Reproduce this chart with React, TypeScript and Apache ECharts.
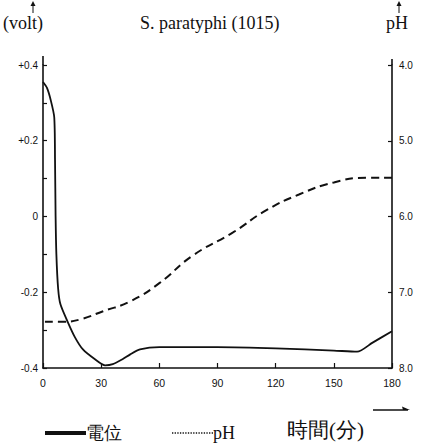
import React, { useEffect, useRef } from "react";
import * as echarts from "echarts";

// time (min) and potential (volt)
const vTimes = [0, 2, 4, 5.8, 6.2, 6.5, 6.9, 7.8, 9, 12.9, 16.5, 20.6, 26.8, 32, 36, 41, 45, 50, 60, 90, 120, 150, 162, 170, 180];
const vValues = [0.355, 0.34, 0.307, 0.262, 0.15, 0.0, -0.1, -0.19, -0.232, -0.28, -0.319, -0.351, -0.377, -0.393, -0.39, -0.377, -0.364, -0.351, -0.345, -0.345, -0.348, -0.354, -0.357, -0.333, -0.303];

// time (min) and pH
const pTimes = [1, 10, 19, 31, 45, 60, 77, 98, 115, 132, 150, 167, 180];
const pValues = [7.39, 7.39, 7.36, 7.25, 7.12, 6.88, 6.52, 6.21, 5.92, 5.71, 5.55, 5.49, 5.49];

const xTicks = [0, 30, 60, 90, 120, 150, 180];
const voltLabels: Record<string, string> = { "4": "+0.4", "2": "+0.2", "0": "0", "-2": "-0.2", "-4": "-0.4" };
const phLabels = ["4.0", "5.0", "6.0", "7.0", "8.0"];

const SERIF = "Liberation Serif";
const SANS = "Liberation Sans";

export default function App() {
  const ref = useRef<HTMLDivElement>(null);
  useEffect(() => {
    if (!ref.current) return;
    const chart = echarts.init(ref.current, null, { renderer: "svg" });
    const L = 43, R = 392, T = 65, B = 368;
    const arrowUp = (x: number) => [
      { type: "line", shape: { x1: x, y1: 4, x2: x, y2: 13 }, style: { stroke: "#111", lineWidth: 1 } },
      { type: "polygon", shape: { points: [[x, 1], [x - 2.5, 6], [x + 2.5, 6]] }, style: { fill: "#111" } },
    ];
    chart.setOption({
      animation: false,
      backgroundColor: "#fff",
      grid: { left: L, right: 425 - R, top: T, bottom: 445 - B, containLabel: false },
      xAxis: {
        type: "value", min: 0, max: 180, interval: 30,
        axisLine: { onZero: false, lineStyle: { color: "#111", width: 1.6 } },
        axisTick: { inside: true, length: 5, lineStyle: { color: "#111", width: 1.2 } },
        axisLabel: {
          margin: 9, color: "#111", fontSize: 10.5, fontFamily: SANS,
          formatter: (v: number) => (xTicks.includes(v) ? String(v) : ""),
        },
        splitLine: { show: false },
      },
      yAxis: [
        {
          type: "value", min: -0.4, max: 0.4, interval: 0.1,
          axisLine: { show: true, onZero: false, lineStyle: { color: "#111", width: 1.6 } },
          axisTick: { show: true, inside: true, length: 4, lineStyle: { color: "#111", width: 1.2 } },
          axisLabel: {
            margin: 5, color: "#111", fontSize: 10, fontFamily: SANS,
            formatter: (v: number) => voltLabels[String(Math.round(v * 10))] ?? "",
          },
          splitLine: { show: false },
        },
        {
          type: "value", min: 4, max: 8, interval: 1, inverse: true, position: "right",
          axisLine: { show: true, onZero: false, lineStyle: { color: "#111", width: 1.6 } },
          axisTick: { show: true, inside: true, length: 4, lineStyle: { color: "#111", width: 1.2 } },
          axisLabel: {
            margin: 7, color: "#111", fontSize: 10, fontFamily: SANS,
            formatter: (v: number) => phLabels[Math.round(v) - 4] ?? "",
          },
          splitLine: { show: false },
        },
      ],
      legend: {
        left: 40, top: 419, itemWidth: 41, itemHeight: 10, itemGap: 50,
        textStyle: { fontSize: 18, color: "#111", fontFamily: SERIF, padding: [0, 0, 0, -5] },
        data: [
          { name: "電位", icon: "path://M0,0H10V1H0Z", itemStyle: { color: "#111" } },
          { name: "pH", icon: "path://M0,0H1V1H0ZM2,0H3V1H2ZM4,0H5V1H4ZM6,0H7V1H6ZM8,0H9V1H8ZM10,0H11V1H10ZM12,0H13V1H12ZM14,0H15V1H14ZM16,0H17V1H16ZM18,0H19V1H18ZM20,0H21V1H20ZM22,0H23V1H22ZM24,0H25V1H24ZM26,0H27V1H26ZM28,0H29V1H28ZM30,0H31V1H30Z", itemStyle: { color: "#111" } },
        ],
      },
      series: [
        {
          name: "電位", type: "line", yAxisIndex: 0, symbol: "none", smooth: 0.25,
          lineStyle: { color: "#111", width: 1.8 },
          data: vTimes.map((t, i) => [t, vValues[i]]),
        },
        {
          name: "pH", type: "line", yAxisIndex: 1, symbol: "none", smooth: 0.5,
          lineStyle: { color: "#111", width: 2, type: [8, 5] },
          data: pTimes.map((t, i) => [t, pValues[i]]),
        },
      ],
      graphic: [
        { type: "text", x: 140, y: 14, style: { text: "S. paratyphi (1015)", fontSize: 18, fontFamily: SERIF, fill: "#111" } },
        { type: "text", x: 3, y: 14, style: { text: "(volt)", fontSize: 18, fontFamily: SERIF, fill: "#111" } },
        ...arrowUp(33),
        { type: "text", x: 386, y: 14, style: { text: "pH", fontSize: 18, fontFamily: SERIF, fill: "#111" } },
        ...arrowUp(399),
        { type: "line", shape: { x1: L, y1: 56, x2: L, y2: T }, style: { stroke: "#111", lineWidth: 1.6 } },
        { type: "line", shape: { x1: R, y1: 59, x2: R, y2: T }, style: { stroke: "#111", lineWidth: 1.6 } },
        { type: "text", x: 287, y: 419, style: { text: "時間(分)", fontSize: 21, fontFamily: SERIF, fill: "#111" } },
        { type: "line", shape: { x1: 373, y1: 410, x2: 408, y2: 410 }, style: { stroke: "#111", lineWidth: 1.5 } },
        { type: "polygon", shape: { points: [[410, 410], [402, 406.5], [403, 410]] }, style: { fill: "#111" } },
      ],
    });
    return () => chart.dispose();
  }, []);
  return <div ref={ref} style={{ position: "absolute", left: 0, top: 0, width: 425, height: 445 }} />;
}
